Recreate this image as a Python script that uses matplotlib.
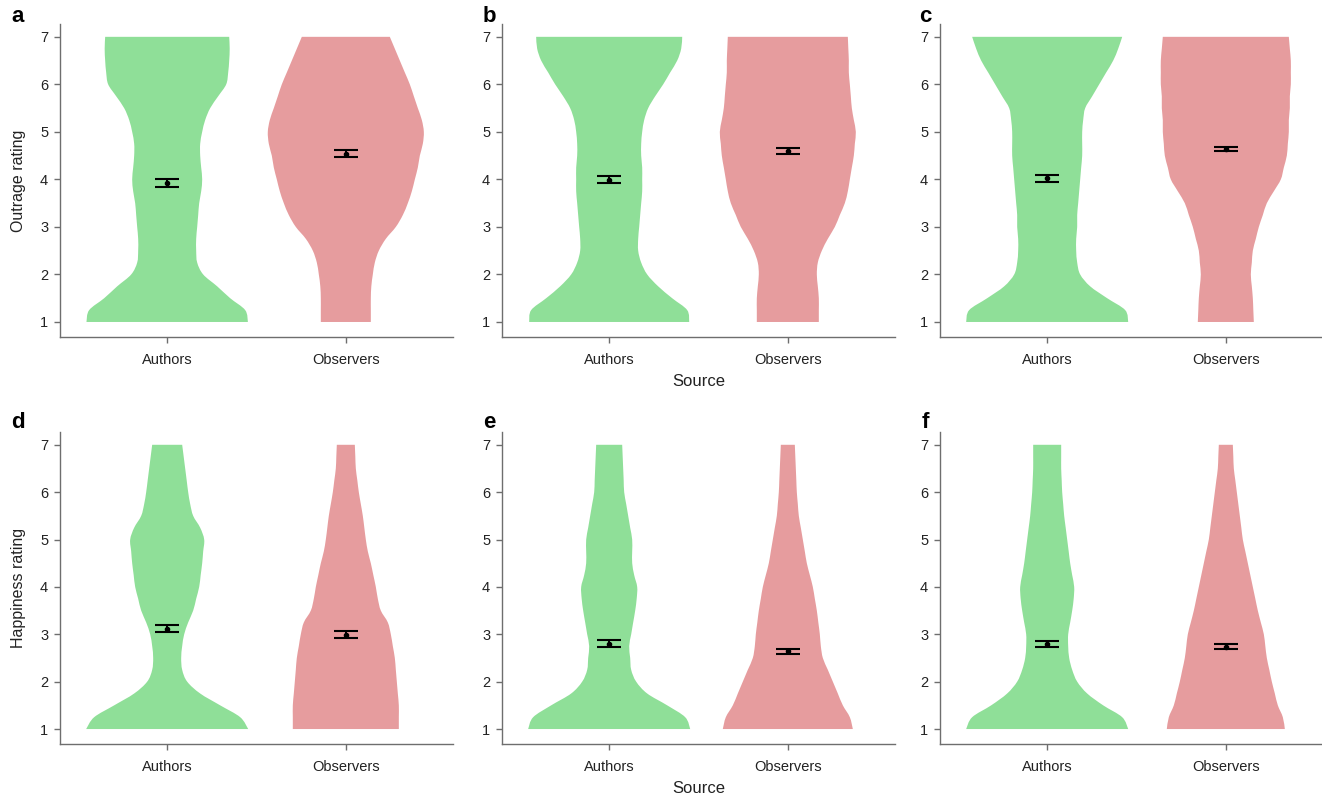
import numpy as np
import matplotlib
matplotlib.use("Agg")
import matplotlib.pyplot as plt
from matplotlib.path import Path
from matplotlib.patches import PathPatch

plt.rcParams['font.family'] = ['Liberation Sans', 'DejaVu Sans']

# ---------------- data ----------------
categories = ["Authors", "Observers"]
panel_letters = ["a", "b", "c", "d", "e", "f"]
row_ylabels = ["Outrage rating", "Happiness rating"]
rating_ticks = [1, 2, 3, 4, 5, 6, 7]

# rating levels at which violin density (half-width) was read
levels = [1, 1.25, 1.5, 1.75, 2, 2.25, 2.5, 2.75, 3, 3.25, 3.5, 3.75, 4,
          4.25, 4.5, 4.75, 5, 5.25, 5.5, 5.75, 6, 6.25, 6.5, 6.75, 7]

# density half-widths (arbitrary units) per panel: authors / observers
dens_a_authors = [80.7, 78, 63, 50, 36, 30, 29, 29, 30, 31, 32, 34, 35, 34, 33, 33, 35, 38, 43, 51, 59, 61, 62, 62.5, 62]
dens_a_observers = [25, 25, 25, 25.5, 27, 29, 33, 40, 50, 57, 62, 66, 69, 72, 74, 77, 78, 76, 72, 68, 64, 59, 54, 49, 44]
dens_b_authors = [80, 78, 63, 49, 38, 32, 29, 29, 30, 31, 32, 33, 33, 33, 32, 32, 33, 35, 39, 46, 54, 61, 68, 72, 73]
dens_b_observers = [31, 31, 31, 30, 29, 30, 34, 40, 47, 52, 57, 60, 62, 64, 66, 67, 68, 66, 64, 63, 62, 61, 61, 60.5, 60]
dens_c_authors = [81, 78, 60, 43, 33, 30, 29, 29, 30, 30, 31, 32, 33, 34, 35, 35, 35, 36, 38, 45, 52, 59, 66, 71, 75]
dens_c_observers = [28, 27.5, 27, 26, 25, 26, 27, 30, 33, 37, 41, 48, 55, 58, 61, 62, 63, 63, 64, 64, 65, 65, 65, 64, 63]
dens_d_authors = [81, 73, 53, 33, 20, 15, 14, 15, 17, 21, 26, 29, 32, 33.5, 35, 36, 37, 33, 26, 23, 21, 19.5, 18, 16.5, 15]
dens_d_observers = [53, 53, 53, 52, 51, 50, 49, 47, 45, 42, 35, 32, 30, 27.5, 25, 22, 20, 18.5, 17, 15, 13, 11.5, 10, 9.5, 9]
dens_e_authors = [81, 76, 58, 38, 27, 22, 21, 20, 22, 24, 26, 27.5, 28, 25, 23, 23, 23, 21, 19, 17, 15, 14.5, 14, 13.5, 13]
dens_e_observers = [65, 62, 55, 50, 45, 40, 35, 33, 32, 30.5, 29, 27, 25, 22, 19, 17, 15, 13, 11, 10, 9, 8.5, 8, 7.5, 7]
dens_f_authors = [81, 75, 56, 40, 30, 25, 22, 21, 21, 23, 25, 26.5, 27, 25, 23, 21.5, 20, 18.5, 17, 16, 15, 14.5, 14, 14, 14]
dens_f_observers = [59, 57, 52, 49, 46, 43.5, 41, 39.5, 38, 35, 32, 29.5, 27, 24.5, 22, 19.5, 17, 15.5, 14, 12.5, 11, 9.5, 8, 7.5, 7]

# means and standard errors
means_authors = [3.93, 3.99, 4.02, 3.12, 2.80, 2.79]
means_observers = [4.54, 4.59, 4.64, 2.99, 2.64, 2.74]
err_authors = [0.085, 0.075, 0.065, 0.077, 0.07, 0.06]
err_observers = [0.075, 0.063, 0.05, 0.072, 0.056, 0.045]

dens_authors = [dens_a_authors, dens_b_authors, dens_c_authors,
                dens_d_authors, dens_e_authors, dens_f_authors]
dens_observers = [dens_a_observers, dens_b_observers, dens_c_observers,
                  dens_d_observers, dens_e_observers, dens_f_observers]

# ---------------- style ----------------
colors = ["#8fdf98", "#e69c9e"]
DENS_SCALE = 1 / 178.6
spine_col = "#6e6e6e"
text_col = "#222222"


def smooth_side(xs, ys):
    """Catmull-Rom curve through the given points, as Bezier segments."""
    pts = np.column_stack([xs, ys])
    n = len(pts)
    verts, codes = [], []
    for k in range(n - 1):
        p0 = pts[max(k - 1, 0)]
        p1 = pts[k]
        p2 = pts[k + 1]
        p3 = pts[min(k + 2, n - 1)]
        c1 = p1 + (p2 - p0) / 6.0
        c2 = p2 - (p3 - p1) / 6.0
        verts += [tuple(c1), tuple(c2), tuple(p2)]
        codes += [Path.CURVE4] * 3
    return verts, codes


def violin_patch(center, dens, color):
    lv = np.array(levels, dtype=float)
    hw = np.array(dens, dtype=float) * DENS_SCALE
    xr = center + hw
    xl = center - hw
    verts = [(xl[0], lv[0]), (xr[0], lv[0])]
    codes = [Path.MOVETO, Path.LINETO]
    v, c = smooth_side(xr, lv)
    verts += v
    codes += c
    verts.append((xl[-1], lv[-1]))
    codes.append(Path.LINETO)
    v, c = smooth_side(xl[::-1], lv[::-1])
    verts += v
    codes += c
    verts.append((xl[0], lv[0]))
    codes.append(Path.CLOSEPOLY)
    return PathPatch(Path(verts, codes), facecolor=color, edgecolor='none', zorder=1)


fig = plt.figure(figsize=(13.22, 7.95), dpi=100)
W, H = 1322, 795
col_left = [60, 502, 940]
ax_w = 393
rows = [(24, 337), (432, 744)]

for i in range(6):
    r, c = divmod(i, 3)
    top, bot = rows[r]
    ax = fig.add_axes([col_left[c] / W, (H - bot) / H, ax_w / W, (bot - top) / H])
    for j, dens in enumerate([dens_authors[i], dens_observers[i]]):
        ax.add_patch(violin_patch(j, dens, colors[j]))
    for j, (m, e) in enumerate([(means_authors[i], err_authors[i]),
                                (means_observers[i], err_observers[i])]):
        ax.errorbar([j], [m], yerr=[e], fmt='o', color='black', ms=3.0,
                    capsize=8.5, capthick=1.5, elinewidth=1.4, zorder=3)
    ax.set_xlim(-0.6, 1.6)
    ax.set_ylim(0.684, 7.27)
    ax.set_xticks([0, 1])
    ax.set_xticklabels(categories)
    ax.set_yticks(rating_ticks)
    for s in ["top", "right"]:
        ax.spines[s].set_visible(False)
    for s in ["left", "bottom"]:
        ax.spines[s].set_color(spine_col)
        ax.spines[s].set_linewidth(1.0)
    ax.tick_params(axis='both', colors=spine_col, length=4.5, width=1.0,
                   labelsize=10.5, labelcolor=text_col, pad=4)
    ax.tick_params(axis='x', pad=7)
    if c == 0:
        ax.set_ylabel(row_ylabels[r], fontsize=11.5, color=text_col, labelpad=10)
    if c == 1:
        ax.set_xlabel("Source", fontsize=12, color=text_col, labelpad=5)
    # panel letters
    lx = [18, 489, 925][c]
    ly = [17, 423][r]
    fig.text(lx / W, (H - ly) / H, panel_letters[i], fontsize=16,
             fontweight='bold', ha='center', va='center', color='black')

fig.savefig("out.png", dpi=100)
